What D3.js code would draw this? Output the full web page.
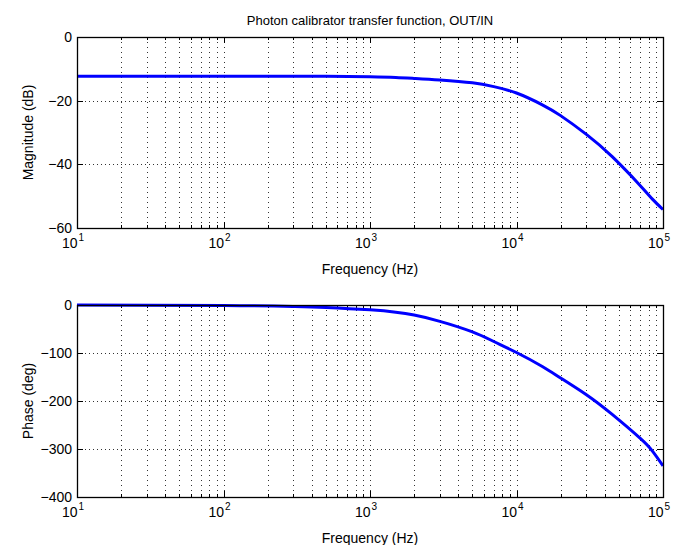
<!DOCTYPE html>
<html>
<head>
<meta charset="utf-8">
<script src="https://cdn.jsdelivr.net/npm/d3@7"></script>
<style>
  body { margin: 0; background: #fff; }
  svg { display: block; font-family: "Liberation Sans", Arial, sans-serif; }
</style>
</head>
<body>
<div id="chart"></div>
<script>
// values
const freqHz = [10, 100, 300, 500, 1000, 1500, 2000, 3000, 5000, 7000, 10000, 15000, 20000, 30000, 45000, 70000, 85000, 100000];
const magnitudeDb = [-12.3, -12.3, -12.3, -12.35, -12.5, -12.7, -13.0, -13.5, -14.4, -15.6, -17.6, -21.3, -24.7, -30.6, -37.6, -46.7, -51.0, -54.2];
const phaseDeg = [0, -1, -3, -5, -10, -15, -21, -34, -56, -76, -99, -128, -152, -187, -228, -278, -305, -335];

const xTickExps = [1, 2, 3, 4, 5];
const magTicks = [0, -20, -40, -60];
const phaseTicks = [0, -100, -200, -300, -400];

const width = 677, height = 545;
const left = 77, right = 663;

const svg = d3.select('#chart')
  .append('svg')
  .attr('width', width)
  .attr('height', height);

const x = d3.scaleLog().domain([10, 100000]).range([left, right]);

// minor ticks 2..9 per decade
const minorTicks = [];
for (let e = 1; e < 5; e++) {
  for (let m = 2; m <= 9; m++) minorTicks.push(m * Math.pow(10, e));
}

const fmt = (v) => (v < 0 ? '\u2212' + Math.abs(v) : String(v));

function drawPanel(top, bottom, yDomain, yTicks, values, yLabel) {
  const y = d3.scaleLinear().domain(yDomain).range([bottom, top]);
  const g = svg.append('g');

  // dotted grid
  const grid = g.append('g')
    .attr('stroke', '#333')
    .attr('stroke-width', 1)
    .attr('stroke-dasharray', '1,4')
    .attr('shape-rendering', 'crispEdges');

  grid.selectAll('.vgrid')
    .data(minorTicks.concat(xTickExps.map((e) => Math.pow(10, e))))
    .enter()
    .append('line')
    .attr('x1', (d) => Math.round(x(d)) + 0.5)
    .attr('x2', (d) => Math.round(x(d)) + 0.5)
    .attr('y1', top)
    .attr('y2', bottom);

  grid.selectAll('.hgrid')
    .data(yTicks)
    .enter()
    .append('line')
    .attr('x1', left)
    .attr('x2', right)
    .attr('y1', (d) => Math.round(y(d)) + 0.5)
    .attr('y2', (d) => Math.round(y(d)) + 0.5)
    .attr('stroke-dasharray', '1,3');

  // ticks inside the box
  const ticks = g.append('g')
    .attr('stroke', '#000')
    .attr('stroke-width', 1)
    .attr('shape-rendering', 'crispEdges');

  xTickExps.forEach((e) => {
    const px = Math.round(x(Math.pow(10, e))) + 0.5;
    ticks.append('line').attr('x1', px).attr('x2', px).attr('y1', bottom).attr('y2', bottom - 6);
    ticks.append('line').attr('x1', px).attr('x2', px).attr('y1', top).attr('y2', top + 6);
  });
  minorTicks.forEach((f) => {
    const px = Math.round(x(f)) + 0.5;
    ticks.append('line').attr('x1', px).attr('x2', px).attr('y1', bottom).attr('y2', bottom - 3);
    ticks.append('line').attr('x1', px).attr('x2', px).attr('y1', top).attr('y2', top + 3);
  });
  yTicks.forEach((v) => {
    const py = Math.round(y(v)) + 0.5;
    ticks.append('line').attr('x1', left).attr('x2', left + 6).attr('y1', py).attr('y2', py);
    ticks.append('line').attr('x1', right).attr('x2', right - 6).attr('y1', py).attr('y2', py);
  });

  // data line
  const line = d3.line()
    .x((d, i) => x(freqHz[i]))
    .y((d) => y(d))
    .curve(d3.curveNatural);

  g.append('path')
    .datum(values)
    .attr('fill', 'none')
    .attr('stroke', '#0000ff')
    .attr('stroke-width', 3)
    .attr('d', line);

  // box
  g.append('rect')
    .attr('x', left + 0.5)
    .attr('y', top + 0.5)
    .attr('width', right - left)
    .attr('height', bottom - top)
    .attr('fill', 'none')
    .attr('stroke', '#000')
    .attr('stroke-width', 1.3);

  // y tick labels
  g.selectAll('.ylab')
    .data(yTicks)
    .enter()
    .append('text')
    .attr('x', left - 5)
    .attr('y', (d) => y(d) + 5)
    .attr('text-anchor', 'end')
    .style('font-size', '14px')
    .text(fmt);

  // x tick labels 10^n
  xTickExps.forEach((e) => {
    const t = g.append('text')
      .attr('x', x(Math.pow(10, e)) - 4)
      .attr('y', bottom + 20)
      .attr('text-anchor', 'middle')
      .style('font-size', '14px');
    t.append('tspan').text('10');
    t.append('tspan')
      .attr('dx', 1)
      .attr('dy', -7)
      .style('font-size', '10px')
      .text(e);
  });

  // x axis label
  g.append('text')
    .attr('x', (left + right) / 2)
    .attr('y', bottom + 46)
    .attr('text-anchor', 'middle')
    .style('font-size', '14px')
    .text('Frequency (Hz)');

  // y axis label
  g.append('text')
    .attr('transform', `translate(33,${(top + bottom) / 2}) rotate(-90)`)
    .attr('text-anchor', 'middle')
    .style('font-size', '14px')
    .text(yLabel);

  return g;
}

drawPanel(37, 228, [-60, 0], magTicks, magnitudeDb, 'Magnitude (dB)');
drawPanel(305, 497, [-400, 0], phaseTicks, phaseDeg, 'Phase (deg)');

// title
svg.append('text')
  .attr('x', (left + right) / 2)
  .attr('y', 25)
  .attr('text-anchor', 'middle')
  .style('font-size', '13px')
  .text('Photon calibrator transfer function, OUT/IN');
</script>
</body>
</html>
